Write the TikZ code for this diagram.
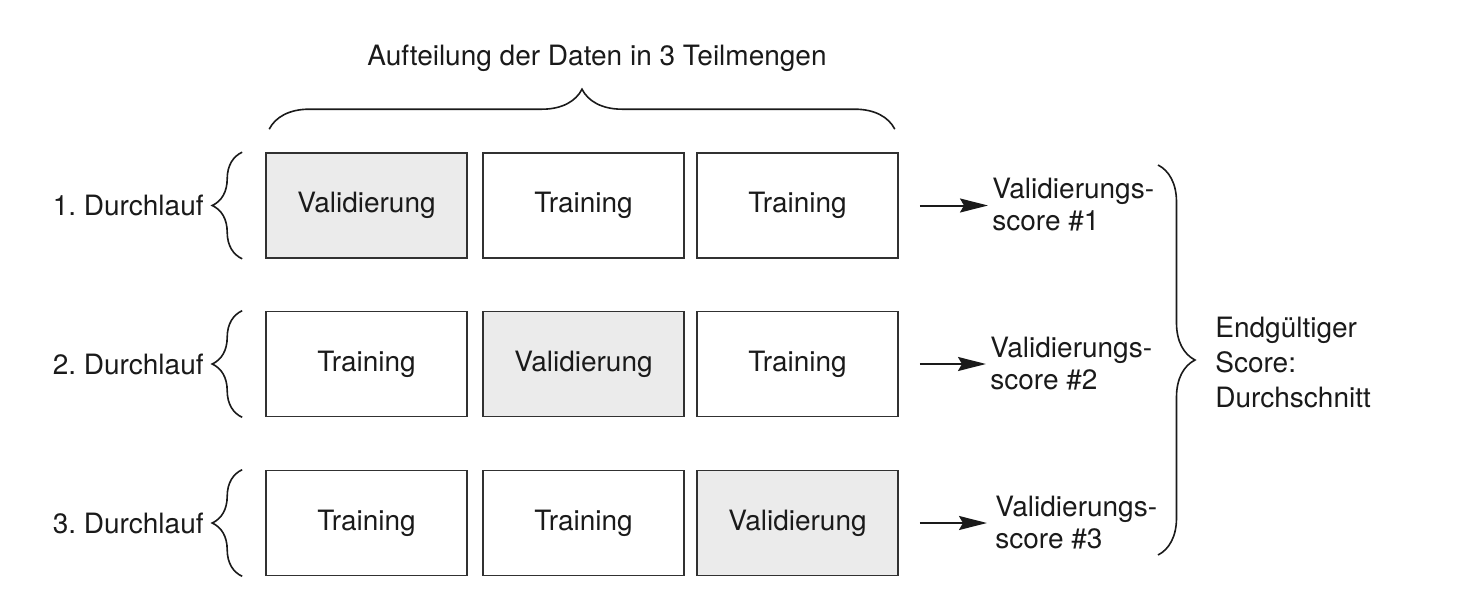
\documentclass[tikz,border=0pt]{standalone}
\usepackage{fontspec}
\setmainfont{TeX Gyre Heros}
\usetikzlibrary{decorations.pathreplacing,arrows.meta,calc}
\definecolor{valfill}{HTML}{EBEBEB}
\definecolor{ink}{HTML}{1A1A1A}
\frenchspacing
\begin{document}
\begin{tikzpicture}[x=0.5pt,y=-0.5pt,
  every node/.style={text=ink,font=\fontsize{14}{16}\selectfont},
  cell/.style={draw=ink!90,line width=0.8pt,minimum width=100.5pt,minimum height=52.5pt,inner sep=0pt},
  valcell/.style={cell,fill=valfill},
  lbl/.style={align=left,inner sep=1pt,anchor=west},
  runlbl/.style={anchor=east,inner sep=0pt},
  brc/.style={decorate,draw=ink,line width=0.8pt,decoration={brace,amplitude=#1}},
  arr/.style={-{Stealth[length=14pt,width=7pt,inset=2pt]},draw=ink,line width=1pt}
]
\useasboundingbox (0,0) rectangle (1457,605);

% boxes
\node[valcell] (b11) at (366.5,205.5) {Validierung};
\node[cell]    (b12) at (583.5,205.5) {Training};
\node[cell]    (b13) at (797.5,205.5) {Training};

\node[cell]    (b21) at (366.5,364) {Training};
\node[valcell] (b22) at (583.5,364) {Validierung};
\node[cell]    (b23) at (797.5,364) {Training};

\node[cell]    (b31) at (366.5,523) {Training};
\node[cell]    (b32) at (583.5,523) {Training};
\node[valcell] (b33) at (797.5,523) {Validierung};

% top label and brace
\node (top) at (597,58) {Aufteilung der Daten in 3 Teilmengen};
\draw[brc=20pt] ($(b11.north west)+(4,-23)$) -- ($(b13.north east)+(-4,-23)$);

% run labels and braces
\node[runlbl] (r1) at (204,205.5) {1. Durchlauf};
\node[runlbl] (r2) at (204,364) {2. Durchlauf};
\node[runlbl] (r3) at (204,523) {3. Durchlauf};
\foreach \r in {1,2,3}{
  \draw[brc=15pt] ($(b\r1.south west)+(-23,0)$) -- ($(b\r1.north west)+(-23,0)$);
}

% score labels
\node[lbl] (s1) at (990,205) {Validierungs-\\score \#1};
\node[lbl] (s2) at (988,364) {Validierungs-\\score \#2};
\node[lbl] (s3) at (993,523) {Validierungs-\\score \#3};

\draw[arr,shorten <=10.5pt,shorten >=1pt] (b13.east) -- (b13.east -| s1.west);
\draw[arr,shorten <=10.5pt,shorten >=1pt] (b23.east) -- (b23.east -| s2.west);
\draw[arr,shorten <=10.5pt,shorten >=3pt] (b33.east) -- (b33.east -| s3.west);

% final brace and label
\coordinate (ft) at (1158,165);
\coordinate (fb) at (1158,555);
\draw[brc=18.5pt] (ft) -- (fb);
\node[lbl,font=\fontsize{14}{17.5}\selectfont] (fin) at (1213,363) {Endgültiger\\Score:\\Durchschnitt};
\end{tikzpicture}
\end{document}
